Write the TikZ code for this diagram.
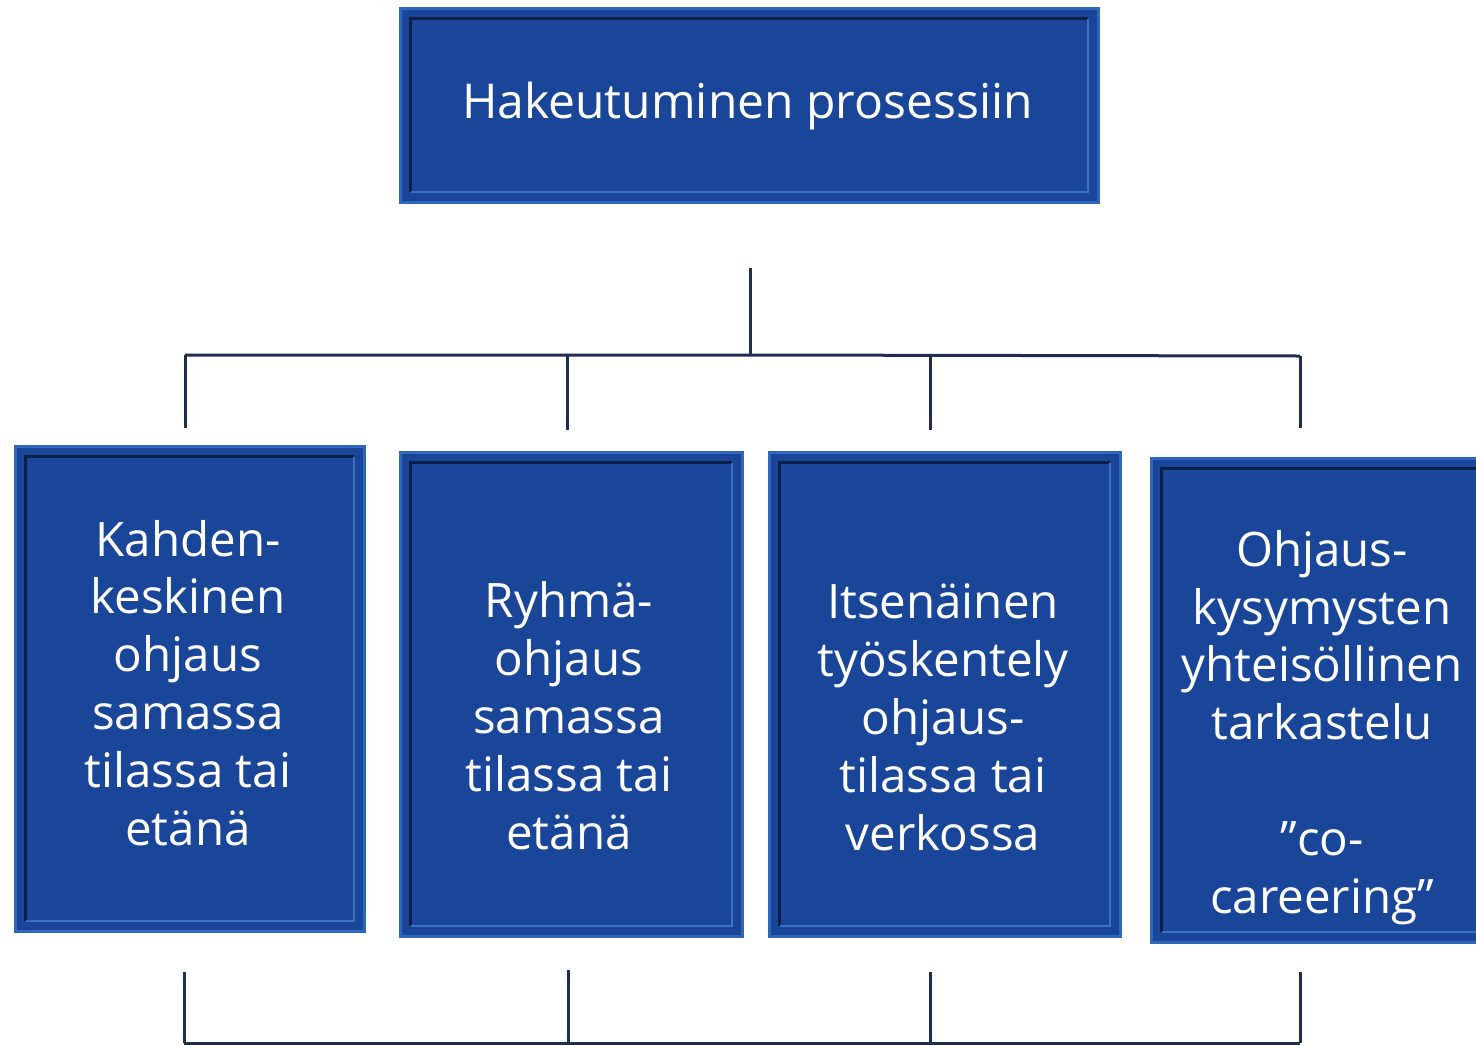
\documentclass[tikz,border=0pt]{standalone}
\usepackage{fontspec}
\setmainfont{Open Sans}
\usetikzlibrary{calc}
\definecolor{boxfill}{HTML}{1A4699}
\definecolor{rimblue}{HTML}{2F68B8}
\definecolor{innerdark}{HTML}{0B1E4A}
\definecolor{innerlight}{HTML}{3A72C2}
\definecolor{linecol}{HTML}{1F2D4E}
\tikzset{
  bevbox/.style={draw=rimblue, line width=3pt, fill=boxfill, inner sep=0pt, anchor=north west},
  boxtext/.style={text=white, align=center, anchor=base, inner sep=0pt, font=\fontsize{47.5}{57.8}\selectfont},
  toptext/.style={text=white, anchor=base, inner sep=0pt, font=\fontsize{48}{58}\selectfont},
  conn/.style={draw=linecol, line width=3pt},
  darkedge/.style={draw=innerdark, line width=3pt},
  lightedge/.style={draw=innerlight, line width=2pt}
}
\newcommand\bevelframe[1]{%
  \draw[darkedge] ($(#1.south west)+(12,-12)$) -- ($(#1.north west)+(12,12)$) -- ($(#1.north east)+(-12,12)$);
  \draw[lightedge] ($(#1.north east)+(-12,12)$) -- ($(#1.south east)+(-12,-12)$) -- ($(#1.south west)+(12,-12)$);
}
\begin{document}
\begin{tikzpicture}[x=1pt,y=-1pt]
\useasboundingbox (0,0) rectangle (1476,1045);
\clip (0,0) rectangle (1476,1045);
% top box
\node[bevbox, minimum width=698pt, minimum height=194pt] (top) at (398.5,6.5) {};
\bevelframe{top}
\node[toptext] (toplbl) at (747.5,118) {Hakeutuminen prosessiin};
% boxes
\node[bevbox, minimum width=349pt, minimum height=485pt] (b1) at (13.5,444.5) {};
\node[bevbox, minimum width=342pt, minimum height=484pt] (b2) at (398.5,450.5) {};
\node[bevbox, minimum width=351pt, minimum height=484pt] (b3) at (767.5,450.5) {};
\node[bevbox, minimum width=345pt, minimum height=484pt] (b4) at (1149.5,456.5) {};
\foreach \b in {b1,b2,b3,b4} {\bevelframe{\b}}
% anchor=base is the baseline of the last line
\node[boxtext] (t1) at (188,845) {Kahden-\\keskinen\\ohjaus\\samassa\\tilassa tai\\etänä};
\node[boxtext] (t2) at (569,849) {Ryhmä-\\ohjaus\\samassa\\tilassa tai\\etänä};
\node[boxtext] (t3) at (943,850) {Itsenäinen\\työskentely\\ohjaus-\\tilassa tai\\verkossa};
\node[boxtext] (t4) at (1322,913) {Ohjaus-\\kysymysten\\yhteisöllinen\\tarkastelu\\\mbox{}\\”co-\\careering”};
% upper connectors
\coordinate (u0) at (750,268);
\coordinate (hub) at (750,355);
\coordinate (h1) at (185,355);
\coordinate (h2) at (567,355);
\coordinate (h3) at (930,355);
\coordinate (h4) at (1300,356);
\coordinate (d1) at (185,428);
\coordinate (d2) at (567,430);
\coordinate (d3) at (930,430);
\coordinate (d4) at (1300,428);
\draw[conn] (u0) -- (hub);
\draw[conn] (h1) -- (hub) -- (h4);
\draw[conn] (h1) -- (d1);
\draw[conn] (h2) -- (d2);
\draw[conn] (h3) -- (d3);
\draw[conn] (h4) -- (d4);
% lower connectors
\coordinate (l1) at (184,972);
\coordinate (l2) at (568,970);
\coordinate (l3) at (930,972);
\coordinate (l4) at (1300,972);
\coordinate (m1) at (184,1043);
\coordinate (m2) at (568,1043);
\coordinate (m3) at (930,1043);
\coordinate (m4) at (1300,1043);
\draw[conn] (l1) -- (m1);
\draw[conn] (l2) -- (m2);
\draw[conn] (l3) -- (m3);
\draw[conn] (l4) -- (m4);
\draw[conn] (m1) -- (m4);
\end{tikzpicture}
\end{document}
